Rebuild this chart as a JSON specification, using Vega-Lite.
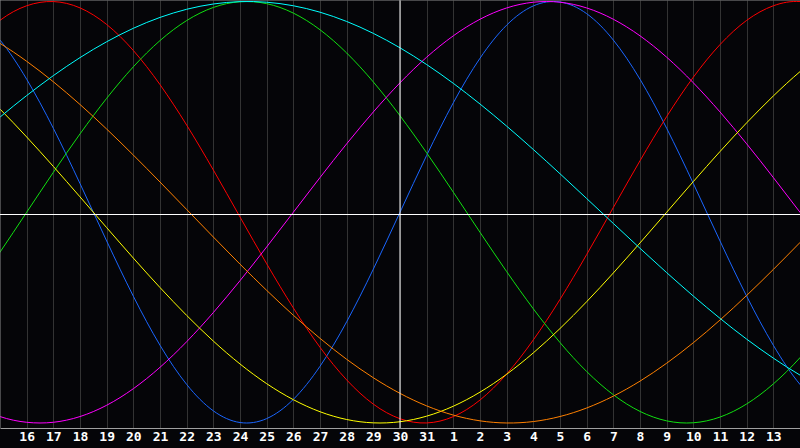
{
  "$schema": "https://vega.github.io/schema/vega-lite/v6.json",
  "width": 800,
  "height": 428,
  "autosize": {"type": "none"},
  "padding": {"left": 0, "top": 0, "right": 0, "bottom": 20},
  "background": "#050508",
  "config": {
    "view": {"stroke": null},
    "axisX": {
      "title": null,
      "ticks": false,
      "grid": true,
      "gridColor": "#333333",
      "gridWidth": 1,
      "domain": true,
      "domainColor": "#a0a0a0",
      "labelColor": "#ffffff",
      "labelFont": "DejaVu Sans Mono",
      "labelFontSize": 13,
      "labelFontWeight": "bold",
      "labelPadding": 2,
      "labelFlush": false,
      "labelOverlap": false,
      "labelSeparation": 0
    }
  },
  "datasets": {
    "curves": [
      {"k": -1, "physical": 0.9423, "emotional": 0.7955, "intellectual": -0.3717, "intuitive": -0.9158, "aesthetic": 0.6112, "awareness": 0.8725, "spiritual": 0.3427},
      {"k": 0, "physical": 0.8170, "emotional": 0.9105, "intellectual": -0.1893, "intuitive": -0.9694, "aesthetic": 0.4895, "awareness": 0.8013, "spiritual": 0.4513},
      {"k": 1, "physical": 0.6311, "emotional": 0.9797, "intellectual": 0.0, "intuitive": -0.9966, "aesthetic": 0.3572, "awareness": 0.7163, "spiritual": 0.5537},
      {"k": 2, "physical": 0.3984, "emotional": 0.9997, "intellectual": 0.1893, "intuitive": -0.9966, "aesthetic": 0.2174, "awareness": 0.6191, "spiritual": 0.6482},
      {"k": 3, "physical": 0.1362, "emotional": 0.9697, "intellectual": 0.3717, "intuitive": -0.9694, "aesthetic": 0.0730, "awareness": 0.5113, "spiritual": 0.7338},
      {"k": 4, "physical": -0.1362, "emotional": 0.8910, "intellectual": 0.5406, "intuitive": -0.9158, "aesthetic": -0.0730, "awareness": 0.3947, "spiritual": 0.8090},
      {"k": 5, "physical": -0.3984, "emotional": 0.7676, "intellectual": 0.6901, "intuitive": -0.8372, "aesthetic": -0.2174, "awareness": 0.2714, "spiritual": 0.8729},
      {"k": 6, "physical": -0.6311, "emotional": 0.6057, "intellectual": 0.8146, "intuitive": -0.7357, "aesthetic": -0.3572, "awareness": 0.1435, "spiritual": 0.9245},
      {"k": 7, "physical": -0.8170, "emotional": 0.4136, "intellectual": 0.9096, "intuitive": -0.6142, "aesthetic": -0.4895, "awareness": 0.0131, "spiritual": 0.9631},
      {"k": 8, "physical": -0.9423, "emotional": 0.2006, "intellectual": 0.9718, "intuitive": -0.4759, "aesthetic": -0.6112, "awareness": -0.1175, "spiritual": 0.9881},
      {"k": 9, "physical": -0.9977, "emotional": -0.0224, "intellectual": 0.9989, "intuitive": -0.3247, "aesthetic": -0.7199, "awareness": -0.2462, "spiritual": 0.9994},
      {"k": 10, "physical": -0.9791, "emotional": -0.2443, "intellectual": 0.9898, "intuitive": -0.1646, "aesthetic": -0.8133, "awareness": -0.3706, "spiritual": 0.9966},
      {"k": 11, "physical": -0.8879, "emotional": -0.4540, "intellectual": 0.9450, "intuitive": 0.0, "aesthetic": -0.8893, "awareness": -0.4886, "spiritual": 0.9798},
      {"k": 12, "physical": -0.7308, "emotional": -0.6408, "intellectual": 0.8660, "intuitive": 0.1646, "aesthetic": -0.9465, "awareness": -0.5983, "spiritual": 0.9492},
      {"k": 13, "physical": -0.5196, "emotional": -0.7955, "intellectual": 0.7557, "intuitive": 0.3247, "aesthetic": -0.9834, "awareness": -0.6978, "spiritual": 0.9053},
      {"k": 14, "physical": -0.2698, "emotional": -0.9105, "intellectual": 0.6182, "intuitive": 0.4759, "aesthetic": -0.9993, "awareness": -0.7853, "spiritual": 0.8487},
      {"k": 15, "physical": 0.0, "emotional": -0.9797, "intellectual": 0.4582, "intuitive": 0.6142, "aesthetic": -0.9940, "awareness": -0.8594, "spiritual": 0.7802},
      {"k": 16, "physical": 0.2698, "emotional": -0.9997, "intellectual": 0.2817, "intuitive": 0.7357, "aesthetic": -0.9675, "awareness": -0.9188, "spiritual": 0.7008},
      {"k": 17, "physical": 0.5196, "emotional": -0.9697, "intellectual": 0.0951, "intuitive": 0.8372, "aesthetic": -0.9203, "awareness": -0.9625, "spiritual": 0.6116},
      {"k": 18, "physical": 0.7308, "emotional": -0.8910, "intellectual": -0.0951, "intuitive": 0.9158, "aesthetic": -0.8535, "awareness": -0.9897, "spiritual": 0.5136},
      {"k": 19, "physical": 0.8879, "emotional": -0.7676, "intellectual": -0.2817, "intuitive": 0.9694, "aesthetic": -0.7686, "awareness": -0.9999, "spiritual": 0.4085},
      {"k": 20, "physical": 0.9791, "emotional": -0.6057, "intellectual": -0.4582, "intuitive": 0.9966, "aesthetic": -0.6672, "awareness": -0.9931, "spiritual": 0.2977},
      {"k": 21, "physical": 0.9977, "emotional": -0.4136, "intellectual": -0.6182, "intuitive": 0.9966, "aesthetic": -0.5517, "awareness": -0.9692, "spiritual": 0.1827},
      {"k": 22, "physical": 0.9423, "emotional": -0.2006, "intellectual": -0.7557, "intuitive": 0.9694, "aesthetic": -0.4244, "awareness": -0.9288, "spiritual": 0.0651},
      {"k": 23, "physical": 0.8170, "emotional": 0.0224, "intellectual": -0.8660, "intuitive": 0.9158, "aesthetic": -0.2881, "awareness": -0.8725, "spiritual": -0.0533},
      {"k": 24, "physical": 0.6311, "emotional": 0.2443, "intellectual": -0.9450, "intuitive": 0.8372, "aesthetic": -0.1456, "awareness": -0.8013, "spiritual": -0.1711},
      {"k": 25, "physical": 0.3984, "emotional": 0.4540, "intellectual": -0.9898, "intuitive": 0.7357, "aesthetic": 0.0, "awareness": -0.7163, "spiritual": -0.2864},
      {"k": 26, "physical": 0.1362, "emotional": 0.6408, "intellectual": -0.9989, "intuitive": 0.6142, "aesthetic": 0.1456, "awareness": -0.6191, "spiritual": -0.3977},
      {"k": 27, "physical": -0.1362, "emotional": 0.7955, "intellectual": -0.9718, "intuitive": 0.4759, "aesthetic": 0.2881, "awareness": -0.5113, "spiritual": -0.5034},
      {"k": 28, "physical": -0.3984, "emotional": 0.9105, "intellectual": -0.9096, "intuitive": 0.3247, "aesthetic": 0.4244, "awareness": -0.3947, "spiritual": -0.6021},
      {"k": 29, "physical": -0.6311, "emotional": 0.9797, "intellectual": -0.8146, "intuitive": 0.1646, "aesthetic": 0.5517, "awareness": -0.2714, "spiritual": -0.6922},
      {"k": 30, "physical": -0.8170, "emotional": 0.9997, "intellectual": -0.6901, "intuitive": 0.0, "aesthetic": 0.6672, "awareness": -0.1435, "spiritual": -0.7727},
      {"k": 31, "physical": -0.9423, "emotional": 0.9697, "intellectual": -0.5406, "intuitive": -0.1646, "aesthetic": 0.7686, "awareness": -0.0131, "spiritual": -0.8425}
    ],
    "vrules": [
      {"k": 0, "kind": "border"},
      {"k": 15, "kind": "today"}
    ],
    "hrules": [
      {"v": 1.0071, "kind": "border"},
      {"v": -0.0107, "kind": "zero"}
    ]
  },
  "layer": [
    {
      "data": {"name": "curves"},
      "transform": [
        {"fold": ["physical", "emotional", "intellectual", "intuitive", "aesthetic", "awareness", "spiritual"], "as": ["key", "v"]}
      ],
      "mark": {"type": "line", "interpolate": "natural", "strokeWidth": 1, "clip": true},
      "encoding": {
        "x": {
          "field": "k",
          "type": "quantitative",
          "scale": {"domain": [0, 30], "nice": false, "zero": false},
          "axis": {
            "values": [1, 2, 3, 4, 5, 6, 7, 8, 9, 10, 11, 12, 13, 14, 15, 16, 17, 18, 19, 20, 21, 22, 23, 24, 25, 26, 27, 28, 29],
            "labelExpr": "datum.value <= 16 ? datum.value + 15 : datum.value - 16",
            "labelOverlap": false,
            "labelSeparation": 0
          }
        },
        "y": {
          "field": "v",
          "type": "quantitative",
          "scale": {"domain": [-1.0237, 1.0071], "nice": false, "zero": false},
          "axis": null
        },
        "color": {
          "field": "key",
          "type": "nominal",
          "scale": {
            "domain": ["physical", "emotional", "intellectual", "intuitive", "aesthetic", "awareness", "spiritual", "border", "today", "zero"],
            "range": ["#1a66ff", "#ff0000", "#10e010", "#ff00ff", "#ffff00", "#ff8000", "#00ffff", "#8c8c8c", "#ffffff", "#ffffff"]
          },
          "legend": null
        }
      }
    },
    {
      "data": {"name": "vrules"},
      "mark": {"type": "rule", "strokeWidth": 1},
      "encoding": {
        "x": {
          "field": "k",
          "type": "quantitative",
          "axis": {
            "values": [1, 2, 3, 4, 5, 6, 7, 8, 9, 10, 11, 12, 13, 14, 15, 16, 17, 18, 19, 20, 21, 22, 23, 24, 25, 26, 27, 28, 29],
            "labelExpr": "datum.value <= 16 ? datum.value + 15 : datum.value - 16",
            "labelOverlap": false,
            "labelSeparation": 0
          }
        },
        "color": {"field": "kind", "type": "nominal", "legend": null},
        "strokeWidth": {"field": "kind", "type": "nominal", "scale": {"domain": ["border", "today"], "range": [2, 1]}, "legend": null}
      }
    },
    {
      "data": {"name": "hrules"},
      "mark": {"type": "rule", "strokeWidth": 1},
      "encoding": {
        "y": {"field": "v", "type": "quantitative", "axis": null},
        "color": {"field": "kind", "type": "nominal", "legend": null},
        "strokeWidth": {"field": "kind", "type": "nominal", "scale": {"domain": ["border", "zero"], "range": [2, 1]}, "legend": null}
      }
    }
  ]
}
